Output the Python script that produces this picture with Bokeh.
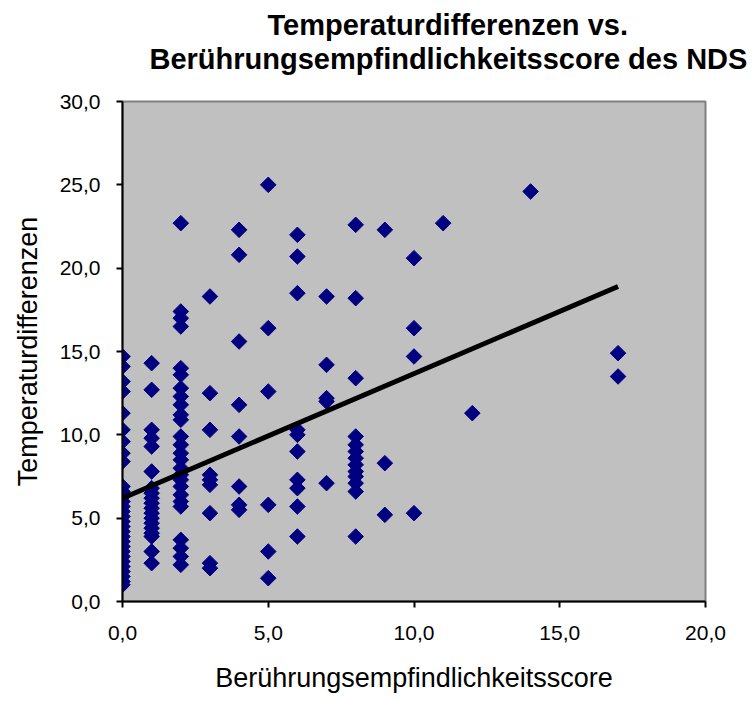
from bokeh.plotting import figure
from bokeh.models import FixedTicker, ColumnDataSource, Range1d, Title
from bokeh.embed import file_html
from bokeh.resources import INLINE

# ---- data ----
title_line1 = "Temperaturdifferenzen vs."
title_line2 = "Berührungsempfindlichkeitsscore des NDS"
x_label = "Berührungsempfindlichkeitsscore"
y_label = "Temperaturdifferenzen"

x_ticks = [0, 5, 10, 15, 20]
x_tick_labels = ["0,0", "5,0", "10,0", "15,0", "20,0"]
y_ticks = [0, 5, 10, 15, 20, 25, 30]
y_tick_labels = ["0,0", "5,0", "10,0", "15,0", "20,0", "25,0", "30,0"]

score_0 = [14.7, 14.1, 13.2, 12.6, 11.3, 10.3, 9.6, 8.9, 8.4, 6.9, 6.6, 6.3, 6.0, 5.7, 5.4,
           5.1, 4.8, 4.5, 4.2, 3.9, 3.6, 3.3, 3.0, 2.7, 2.4, 2.1, 1.8, 1.5, 1.2, 1.0]
score_1 = [14.3, 12.7, 10.3, 9.8, 9.3, 7.8, 6.8, 6.5, 6.2, 5.9, 5.6, 5.3, 5.0, 4.7, 4.4,
           4.1, 3.9, 3.0, 2.3]
score_2 = [22.7, 17.4, 17.0, 16.5, 14.0, 13.6, 12.8, 12.3, 11.8, 11.2, 10.9, 9.9, 9.4, 8.9,
           8.5, 8.0, 7.6, 7.3, 6.9, 6.4, 6.0, 5.7, 3.7, 3.2, 2.7, 2.2]
score_3 = [18.3, 12.5, 10.3, 7.6, 7.3, 7.0, 5.3, 2.3, 2.0]
score_4 = [22.3, 20.8, 15.6, 11.8, 9.9, 6.9, 5.8, 5.5]
score_5 = [25.0, 16.4, 12.6, 5.8, 3.0, 1.4]
score_6 = [22.0, 20.7, 18.5, 10.3, 10.0, 9.0, 7.3, 6.8, 5.7, 3.9]
score_7 = [18.3, 14.2, 12.2, 12.0, 7.1]
score_8 = [22.6, 18.2, 13.4, 9.9, 9.4, 9.0, 8.6, 8.2, 7.8, 7.5, 7.1, 6.6, 3.9]
score_9 = [22.3, 8.3, 5.2]
score_10 = [20.6, 16.4, 14.7, 5.3]
score_11 = [22.7]
score_12 = [11.3]
score_14 = [24.6]
score_17 = [14.9, 13.5]

groups = {0: score_0, 1: score_1, 2: score_2, 3: score_3, 4: score_4, 5: score_5,
          6: score_6, 7: score_7, 8: score_8, 9: score_9, 10: score_10, 11: score_11,
          12: score_12, 14: score_14, 17: score_17}

trend_x = [0, 17]
trend_y = [6.2, 18.9]

xs, ys = [], []
for k, vals in groups.items():
    for v in vals:
        xs.append(k)
        ys.append(v)
src = ColumnDataSource(dict(x=xs, y=ys))

# ---- figure ----
p = figure(width=750, height=700, output_backend="svg", toolbar_location=None,
           x_range=Range1d(0, 20), y_range=Range1d(0, 30),
           min_border_left=122, min_border_right=45, min_border_top=101, min_border_bottom=99)
p.background_fill_color = "#C0C0C0"
p.border_fill_color = "white"
p.outline_line_color = "#808080"
p.outline_line_width = 2
p.xgrid.visible = False
p.ygrid.visible = False

p.scatter("x", "y", source=src, marker="square", angle=0.785398, size=11,
          fill_color="#000080", line_color="#000080")
p.line(trend_x, trend_y, line_width=5, line_color="black")

font = "Liberation Sans"
for ax in (p.xaxis[0], p.yaxis[0]):
    ax.axis_line_color = "black"
    ax.axis_line_width = 2
    ax.major_tick_line_color = "black"
    ax.major_tick_line_width = 2
    ax.major_tick_out = 6
    ax.major_tick_in = 0
    ax.minor_tick_line_color = None
    ax.major_label_text_font = font
    ax.major_label_text_font_size = "21px"
    ax.major_label_text_color = "black"
    ax.axis_label_text_font = font
    ax.axis_label_text_font_size = "27px"
    ax.axis_label_text_font_style = "normal"
    ax.axis_label_text_color = "black"

p.xaxis[0].ticker = FixedTicker(ticks=x_ticks)
p.xaxis[0].major_label_overrides = dict(zip(x_ticks, x_tick_labels))
p.xaxis[0].axis_label = x_label
p.xaxis[0].major_label_standoff = 18
p.xaxis[0].axis_label_standoff = 20

p.yaxis[0].ticker = FixedTicker(ticks=y_ticks)
p.yaxis[0].major_label_overrides = dict(zip(y_ticks, y_tick_labels))
p.yaxis[0].axis_label = y_label
p.yaxis[0].major_label_standoff = 16
p.yaxis[0].axis_label_standoff = 14

# titles: spacer nearest the frame, then line 2, then line 1 on top
p.add_layout(Title(text=" ", text_font_size="10px", standoff=14), "above")
p.add_layout(Title(text=title_line2, align="left", offset=27, standoff=0,
                   text_font=font, text_font_size="29px", text_font_style="bold",
                   text_color="black"), "above")
p.add_layout(Title(text=title_line1, align="left", offset=145, standoff=0,
                   text_font=font, text_font_size="29px", text_font_style="bold",
                   text_color="black"), "above")

open("out.html", "w").write(file_html(p, INLINE))
